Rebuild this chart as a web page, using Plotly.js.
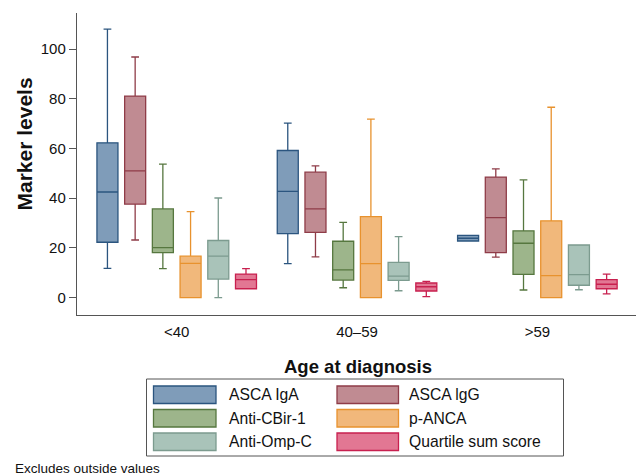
<!DOCTYPE html>
<html>
<head>
<meta charset="utf-8">
<script src="https://cdn.plot.ly/plotly-3.0.1.min.js"></script>
<style>html,body{margin:0;padding:0;background:#fff;} #chart{width:636px;height:476px;}</style>
</head>
<body>
<div id="chart"></div>
<script>
// ---- data ----
var categories = ['<40', '40\u201359', '>59'];
var seriesNames = ['ASCA IgA', 'ASCA lgG', 'Anti-CBir-1', 'p-ANCA', 'Anti-Omp-C', 'Quartile sum score'];

var ascaIgA_lower  = [11.8, 13.7, 22.8];
var ascaIgA_q1     = [22.3, 25.8, 22.8];
var ascaIgA_median = [42.5, 42.8, 23.9];
var ascaIgA_q3     = [62.3, 59.2, 25.1];
var ascaIgA_upper  = [108.0, 70.2, 25.1];

var ascaIgG_lower  = [23.2, 16.4, 16.3];
var ascaIgG_q1     = [37.6, 26.3, 18.1];
var ascaIgG_median = [51.0, 35.7, 32.2];
var ascaIgG_q3     = [81.1, 50.5, 48.5];
var ascaIgG_upper  = [96.8, 53.0, 51.8];

var cbir_lower  = [11.7, 4.0, 3.1];
var cbir_q1     = [18.1, 7.1, 9.4];
var cbir_median = [20.1, 11.2, 21.9];
var cbir_q3     = [35.7, 22.7, 26.9];
var cbir_upper  = [53.7, 30.3, 47.4];

var panca_lower  = [0.0, 0.0, 0.0];
var panca_q1     = [0.0, 0.0, 0.0];
var panca_median = [13.8, 13.7, 8.9];
var panca_q3     = [16.7, 32.6, 30.9];
var panca_upper  = [34.6, 71.8, 76.6];

var omp_lower  = [0.0, 2.8, 3.2];
var omp_q1     = [7.5, 7.0, 5.0];
var omp_median = [16.7, 8.7, 9.3];
var omp_q3     = [23.0, 14.2, 21.2];
var omp_upper  = [40.1, 24.6, 21.2];

var qss_lower  = [3.6, 0.4, 1.5];
var qss_q1     = [3.6, 2.7, 3.6];
var qss_median = [7.3, 4.4, 5.4];
var qss_q3     = [9.5, 5.9, 7.3];
var qss_upper  = [11.7, 6.6, 9.5];

var yTickVals = [0, 20, 40, 60, 80, 100];
var yTickText = ['0', '20', '40', '60', '80', '100'];

var xTitle = 'Age at diagnosis';
var yTitle = 'Marker levels';
var note = 'Excludes outside values';

// ---- styles ----
var FONT = 'Liberation Sans, Arial, sans-serif';
var fills = ['#7f9cb9', '#c08b92', '#9db58b', '#f1b87b', '#a9c3b9', '#e27793'];
var lines = ['#2b557f', '#8f3c48', '#56773f', '#e8922e', '#7c9b8f', '#c8204f'];

var stats = [
  [ascaIgA_lower, ascaIgA_q1, ascaIgA_median, ascaIgA_q3, ascaIgA_upper],
  [ascaIgG_lower, ascaIgG_q1, ascaIgG_median, ascaIgG_q3, ascaIgG_upper],
  [cbir_lower, cbir_q1, cbir_median, cbir_q3, cbir_upper],
  [panca_lower, panca_q1, panca_median, panca_q3, panca_upper],
  [omp_lower, omp_q1, omp_median, omp_q3, omp_upper],
  [qss_lower, qss_q1, qss_median, qss_q3, qss_upper]
];

var traces = stats.map(function (s, i) {
  return {
    type: 'box',
    name: seriesNames[i],
    x: categories,
    lowerfence: s[0], q1: s[1], median: s[2], q3: s[3], upperfence: s[4],
    fillcolor: fills[i],
    line: {color: lines[i], width: 1.3},
    whiskerwidth: 0.37,
    boxpoints: false,
    showlegend: false,
    hoverinfo: 'skip'
  };
});

// ---- plot geometry helpers (for the hand-drawn legend) ----
var L = 77, R = 636, T = 13, B = 315;
function px(X) { return (X - L) / (R - L); }
function py(Y) { return (B - Y) / (B - T); }

var shapes = [];
var annotations = [];
// legend frame
shapes.push({type: 'rect', xref: 'paper', yref: 'paper',
  x0: px(146.5), x1: px(563.5), y0: py(379), y1: py(456),
  line: {color: '#555', width: 1}, fillcolor: 'rgba(0,0,0,0)'});
var colSwX = [[153.5, 216], [337, 398.5]];
var colTxtX = [226.5, 406.5];
var rowY = [[386, 403.5], [409.5, 427], [433, 450.5]];
for (var k = 0; k < seriesNames.length; k++) {
  var r = Math.floor(k / 2), c = k % 2;
  shapes.push({type: 'rect', xref: 'paper', yref: 'paper',
    x0: px(colSwX[c][0]), x1: px(colSwX[c][1]), y0: py(rowY[r][1]), y1: py(rowY[r][0]),
    fillcolor: fills[k], line: {color: lines[k], width: 1.3}});
  annotations.push({xref: 'paper', yref: 'paper', x: px(colTxtX[c]), y: py((rowY[r][0] + rowY[r][1]) / 2),
    xanchor: 'left', yanchor: 'middle', showarrow: false, text: seriesNames[k],
    font: {family: FONT, size: 15.7, color: '#111'}});
}
annotations.push({xref: 'paper', yref: 'paper', x: px(13), y: py(468),
  xanchor: 'left', yanchor: 'middle', showarrow: false, text: note,
  font: {family: FONT, size: 13.5, color: '#111'}});
// axis titles
annotations.push({xref: 'paper', yref: 'paper', x: px(357.5), y: py(366.5),
  xanchor: 'center', yanchor: 'middle', showarrow: false, text: '<b>' + xTitle + '</b>',
  font: {family: FONT, size: 18.5, color: '#111'}});
annotations.push({xref: 'paper', yref: 'paper', x: px(23.5), y: py(144),
  xanchor: 'center', yanchor: 'middle', showarrow: false, textangle: -90, text: '<b>' + yTitle + '</b>',
  font: {family: FONT, size: 21, color: '#111'}});

var layout = {
  width: 636, height: 476,
  margin: {l: L, r: 636 - R, t: T, b: 476 - B, pad: 0},
  paper_bgcolor: '#fff', plot_bgcolor: '#fff',
  font: {family: FONT, size: 15, color: '#111'},
  boxmode: 'group', boxgap: 0.078, boxgroupgap: 0.242,
  showlegend: false,
  xaxis: {
    type: 'category', categoryorder: 'array', categoryarray: categories,
    range: [-0.553, 2.547],
    showline: true, linecolor: '#555', linewidth: 1.2,
    showgrid: false, zeroline: false, ticks: '',
    ticklabelstandoff: 3,
    tickfont: {size: 15}
  },
  yaxis: {
    range: [-6.96, 114.5],
    tickvals: yTickVals, ticktext: yTickText,
    showline: true, linecolor: '#555', linewidth: 1.2,
    showgrid: false, zeroline: false,
    ticks: 'outside', ticklen: 7, tickcolor: '#555', tickwidth: 1,
    tickfont: {size: 15}
  },
  shapes: shapes,
  annotations: annotations
};

Plotly.newPlot('chart', traces, layout, {displayModeBar: false, staticPlot: true});
</script>
</body>
</html>
